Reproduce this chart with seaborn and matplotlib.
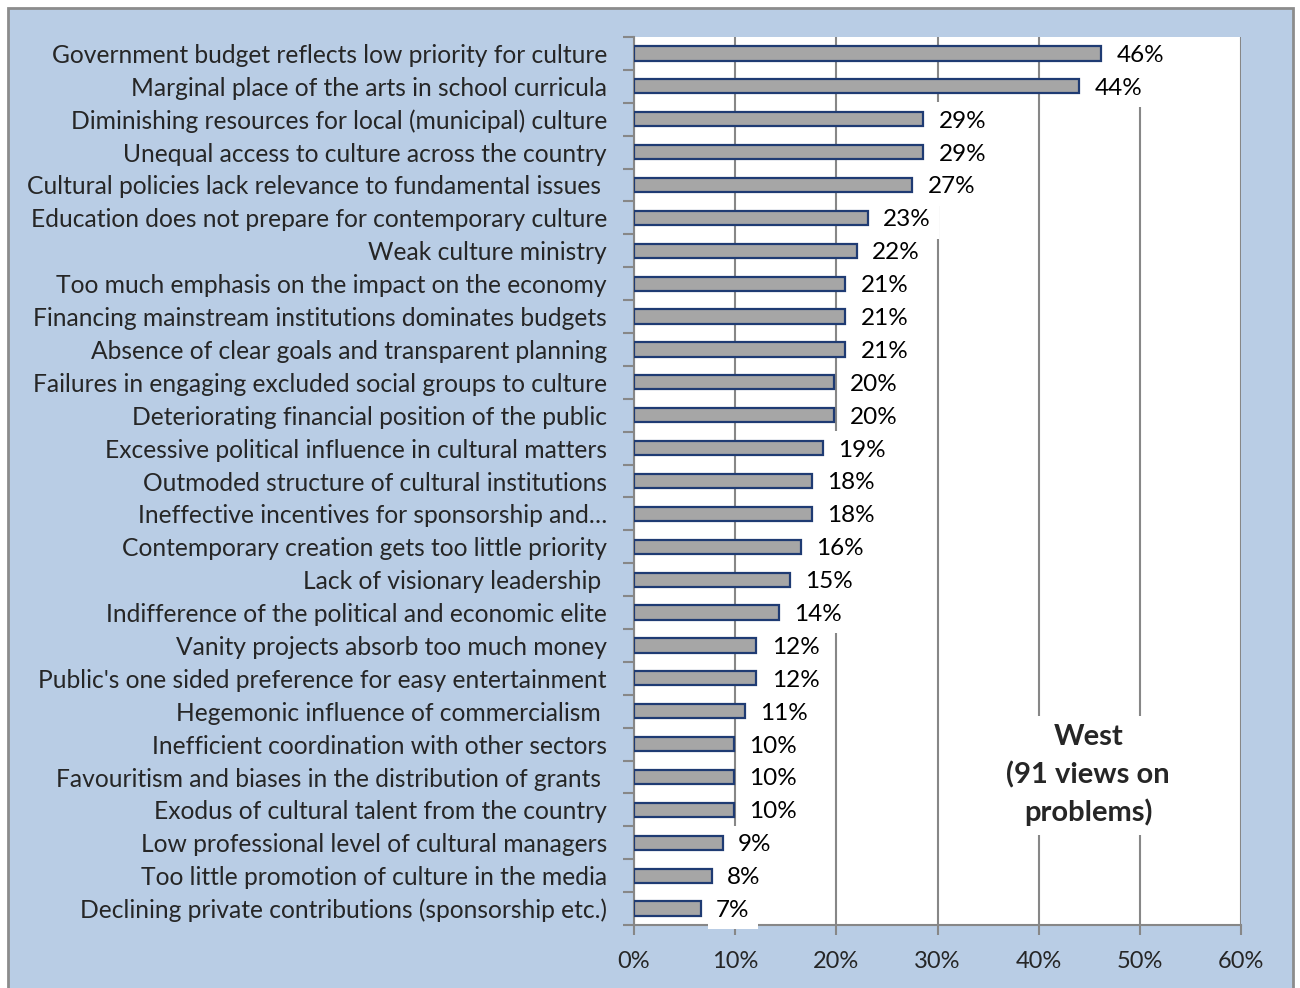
import matplotlib
matplotlib.use("Agg")
import matplotlib.pyplot as plt
import seaborn as sns
import pandas as pd
from matplotlib.patches import Rectangle
from matplotlib.ticker import FixedLocator, FuncFormatter

categories = [
    "Government budget reflects low priority for culture",
    "Marginal place of the arts in school curricula",
    "Diminishing resources for local (municipal) culture",
    "Unequal access to culture across the country",
    "Cultural policies lack relevance to fundamental issues ",
    "Education does not prepare for contemporary culture",
    "Weak culture ministry",
    "Too much emphasis on the impact on the economy",
    "Financing mainstream institutions dominates budgets",
    "Absence of clear goals and transparent planning",
    "Failures in engaging excluded social groups to culture",
    "Deteriorating financial position of the public",
    "Excessive political influence in cultural matters",
    "Outmoded structure of cultural institutions",
    "Ineffective incentives for sponsorship and\u2026",
    "Contemporary creation gets too little priority",
    "Lack of visionary leadership ",
    "Indifference of the political and economic elite",
    "Vanity projects absorb too much money",
    "Public's one sided preference for easy entertainment",
    "Hegemonic influence of commercialism ",
    "Inefficient coordination with other sectors",
    "Favouritism and biases in the distribution of grants ",
    "Exodus of cultural talent from the country",
    "Low professional level of cultural managers",
    "Too little promotion of culture in the media",
    "Declining private contributions (sponsorship etc.)",
]
values = [46.2, 44.0, 28.6, 28.6, 27.5, 23.1, 22.0, 20.9, 20.9, 20.9, 19.8, 19.8,
          18.7, 17.6, 17.6, 16.5, 15.4, 14.3, 12.1, 12.1, 11.0, 9.9, 9.9, 9.9,
          8.8, 7.7, 6.6]
value_labels = ["46%", "44%", "29%", "29%", "27%", "23%", "22%", "21%", "21%", "21%",
                "20%", "20%", "19%", "18%", "18%", "16%", "15%", "14%", "12%", "12%",
                "11%", "10%", "10%", "10%", "9%", "8%", "7%"]
x_ticks = [0, 10, 20, 30, 40, 50, 60]
annotation = "West\n(91 views on\nproblems)"

df = pd.DataFrame({"category": categories, "value": values})

sns.set_style("white")
plt.rcParams["font.family"] = ["Lato", "DejaVu Sans"]

fig = plt.figure(figsize=(13, 9.88), dpi=100)
fig.patch.set_facecolor("white")
fig.patches.append(Rectangle((8 / 1300, -0.05), (1293 - 8) / 1300, 1 - 8 / 988 + 0.05,
                             transform=fig.transFigure, facecolor="#B9CDE5",
                             edgecolor="#8C8C8C", linewidth=2, zorder=-10))

ax = fig.add_axes([634 / 1300, 1 - 925 / 988, (1241 - 634) / 1300, (925 - 37) / 988])
ax.set_facecolor("white")

sns.barplot(data=df, x="value", y="category", orient="h", color="#A6A6A6",
            saturation=1, width=0.43, edgecolor="#1F3B73", linewidth=1.6, ax=ax,
            zorder=3)

ax.set_xlim(0, 60)
ax.set_ylim(len(categories) - 0.5, -0.5)
ax.xaxis.set_major_locator(FixedLocator(x_ticks))
ax.xaxis.set_major_formatter(FuncFormatter(lambda v, p: f"{int(v)}%"))
ax.grid(axis="x", color="#878787", linewidth=1.5, zorder=0)
ax.grid(axis="y", visible=False)
ax.set_axisbelow(True)
ax.set_xlabel("")
ax.set_ylabel("")

for s in ["top", "right"]:
    ax.spines[s].set_visible(False)
for s in ["left", "bottom"]:
    ax.spines[s].set_color("#878787")
    ax.spines[s].set_linewidth(1.5)

ax.tick_params(axis="x", which="major", length=7, width=1.5, color="#878787",
               labelsize=17, pad=12, direction="out", bottom=True)
ax.tick_params(axis="y", which="major", length=0, labelsize=17.7, pad=19.5)
ax.set_yticks([i - 0.5 for i in range(len(categories) + 1)], minor=True)
ax.tick_params(axis="y", which="minor", length=8, width=1.5, color="#878787",
               direction="out", left=True)

for i, (v, lab) in enumerate(zip(values, value_labels)):
    ax.text(v + 1.5, i + 0.06, lab, ha="left", va="center", fontsize=17.5, color="black",
            bbox=dict(facecolor="white", edgecolor="none", pad=6), zorder=4)

ax.text(44.9, 21.95, annotation, ha="center", va="center", fontsize=21,
        fontweight="bold", linespacing=1.47,
        bbox=dict(facecolor="white", edgecolor="none", pad=6), zorder=4)

fig.savefig("out.png", dpi=100, facecolor=fig.get_facecolor())
